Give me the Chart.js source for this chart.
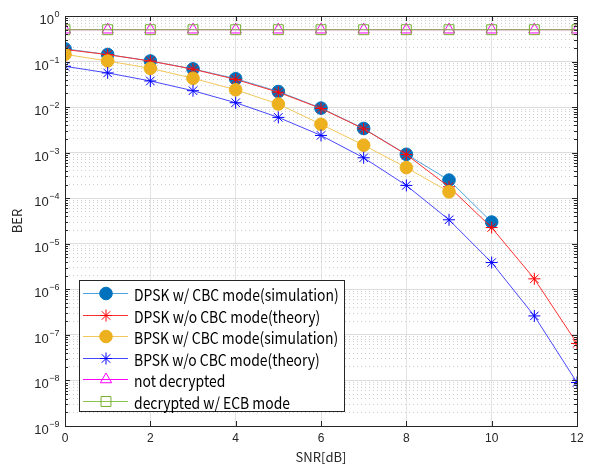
<!DOCTYPE html>
<html>
<head>
<meta charset="utf-8">
<script src="https://cdn.jsdelivr.net/npm/chart.js@4"></script>
<style>
  html, body { margin: 0; padding: 0; background: #fff; }
  #wrap { width: 590px; height: 465px; }
</style>
</head>
<body>
<div id="wrap"><canvas id="ber"></canvas></div>
<script>
// SNR points [dB]
const snr = [0, 1, 2, 3, 4, 5, 6, 7, 8, 9, 10, 11, 12];

// BER values
const dpskSim = [0.19, 0.143, 0.103, 0.069, 0.042, 0.022, 0.0095, 0.0034, 9.2e-4, 2.5e-4, 3.0e-5];
const dpskTheory = [0.184, 0.142, 0.1025, 0.068, 0.0406, 0.0212, 0.00934, 0.00333, 9.09e-4, 1.78e-4, 2.27e-5, 1.7e-6, 6.5e-8];
const bpskSim = [0.144, 0.103, 0.071, 0.043, 0.024, 0.0117, 0.0042, 0.00146, 4.7e-4, 1.38e-4];
const bpskTheory = [0.0786, 0.0563, 0.0375, 0.0229, 0.0125, 0.00595, 0.00239, 7.73e-4, 1.91e-4, 3.36e-5, 3.87e-6, 2.61e-7, 9.0e-9];
const notDecrypted = [0.5, 0.5, 0.5, 0.5, 0.5, 0.5, 0.5, 0.5, 0.5, 0.5, 0.5, 0.5, 0.5];
const ecbMode = [0.5, 0.5, 0.5, 0.5, 0.5, 0.5, 0.5, 0.5, 0.5, 0.5, 0.5, 0.5, 0.5];

const seriesLabels = [
    'DPSK w/ CBC mode(simulation)',
    'DPSK w/o CBC mode(theory)',
    'BPSK w/ CBC mode(simulation)',
    'BPSK w/o CBC mode(theory)',
    'not decrypted',
    'decrypted w/ ECB mode'
];

// y axis tick exponents, x axis ticks
const yExponents = [-9, -8, -7, -6, -5, -4, -3, -2, -1, 0];
const xTicks = [0, 2, 4, 6, 8, 10, 12];

function pts(arr) {
    return arr.map((v, i) => ({ x: snr[i], y: v }));
}

const AXIS = '#262626';
const FONT = "'Noto Sans CJK JP', 'Noto Sans', sans-serif";
const TICKFONT = "'Liberation Sans', Arial, sans-serif";

const datasets = [
    { data: pts(dpskSim), borderColor: '#4fa3dc', pointBackgroundColor: '#0072BD',
      pointBorderColor: '#0072BD', pointStyle: 'circle', pointRadius: 6.3 },
    { data: pts(dpskTheory), borderColor: '#ff3030', pointBackgroundColor: 'rgba(0,0,0,0)',
      pointBorderColor: '#ff0000', pointStyle: 'star', pointRadius: 6 },
    { data: pts(bpskSim), borderColor: '#f3c85a', pointBackgroundColor: '#EDB120',
      pointBorderColor: '#EDB120', pointStyle: 'circle', pointRadius: 6.3 },
    { data: pts(bpskTheory), borderColor: '#4848ff', pointBackgroundColor: 'rgba(0,0,0,0)',
      pointBorderColor: '#0000ff', pointStyle: 'star', pointRadius: 6 },
    { data: pts(notDecrypted), borderColor: '#ff00ff', pointBackgroundColor: 'rgba(0,0,0,0)',
      pointBorderColor: '#ff00ff', pointStyle: 'triangle', pointRadius: 6.5 },
    { data: pts(ecbMode), borderColor: '#8cc34f', pointBackgroundColor: 'rgba(0,0,0,0)',
      pointBorderColor: '#77AC30', pointStyle: 'rect', pointRadius: 7 }
];
datasets.forEach((d, i) => {
    d.label = seriesLabels[i];
    d.backgroundColor = d.pointBorderColor;
    d.borderWidth = 1;
    d.pointBorderWidth = 1;
    d.tension = 0;
    d.fill = false;
    d.order = datasets.length - i; // later series drawn on top
});

// box round the plot, inward tick marks, y labels with superscript exponents
const boxPlugin = {
    id: 'box',
    afterDatasetsDraw(chart) {
        const { ctx, chartArea: a, scales } = chart;
        ctx.save();
        ctx.strokeStyle = AXIS;
        ctx.lineWidth = 1;
        ctx.beginPath();
        xTicks.forEach(v => {
            const x = Math.round(scales.x.getPixelForValue(v)) + 0.5;
            ctx.moveTo(x, a.bottom); ctx.lineTo(x, a.bottom - 5);
            ctx.moveTo(x, a.top); ctx.lineTo(x, a.top + 5);
        });
        yExponents.forEach(e => {
            for (let m = 1; m <= 9; m++) {
                if (e === 0 && m > 1) break;
                const y = Math.round(scales.y.getPixelForValue(m * Math.pow(10, e))) + 0.5;
                const len = m === 1 ? 5 : 3;
                ctx.moveTo(a.left, y); ctx.lineTo(a.left + len, y);
                ctx.moveTo(a.right, y); ctx.lineTo(a.right - len, y);
            }
        });
        ctx.stroke();
        ctx.strokeRect(Math.round(a.left) + 0.5, Math.round(a.top) + 0.5,
            Math.round(a.right - a.left), Math.round(a.bottom - a.top));

        ctx.fillStyle = AXIS;
        ctx.textBaseline = 'alphabetic';
        ctx.textAlign = 'left';
        yExponents.forEach(e => {
            const y = scales.y.getPixelForValue(Math.pow(10, e));
            const ex = String(e).replace('-', '\u2212');
            ctx.font = '13px ' + TICKFONT;
            const wb = ctx.measureText('10').width;
            ctx.font = '9px ' + TICKFONT;
            const we = ctx.measureText(ex).width;
            const x0 = a.left - 6 - wb - we;
            ctx.font = '13px ' + TICKFONT;
            ctx.fillText('10', x0, y + 8);
            ctx.font = '9px ' + TICKFONT;
            ctx.fillText(ex, x0 + wb + 0.5, y + 1);
        });
        ctx.restore();
    }
};

// legend inside the lower left of the plot
const innerLegend = {
    id: 'innerLegend',
    afterDraw(chart) {
        const { ctx, chartArea: a } = chart;
        const bx = a.left + 14, by = a.bottom - 146, bw = 265, bh = 131;
        ctx.save();
        ctx.fillStyle = '#fff';
        ctx.fillRect(bx, by, bw, bh);
        ctx.strokeStyle = AXIS;
        ctx.lineWidth = 1;
        ctx.strokeRect(bx + 0.5, by + 0.5, bw, bh);
        ctx.font = '16px ' + FONT;
        ctx.textBaseline = 'middle';
        chart.data.datasets.forEach((d, i) => {
            const y = Math.round(by + 13 + i * 21.6) + 0.5;
            ctx.strokeStyle = d.borderColor;
            ctx.lineWidth = 1;
            ctx.beginPath();
            ctx.moveTo(bx + 4, y); ctx.lineTo(bx + 49, y);
            ctx.stroke();
            ctx.fillStyle = d.pointBackgroundColor;
            ctx.strokeStyle = d.pointBorderColor;
            Chart.helpers.drawPoint(ctx, {
                pointStyle: d.pointStyle, radius: d.pointRadius, borderWidth: 1, rotation: 0
            }, bx + 27, y);
            ctx.fillStyle = '#000';
            const w = ctx.measureText(d.label).width;
            ctx.fillText(d.label, bx + 55, y + 1, w * 0.87);
        });
        ctx.restore();
    }
};

new Chart(document.getElementById('ber'), {
    type: 'line',
    data: { datasets: datasets },
    plugins: [boxPlugin, innerLegend],
    options: {
        responsive: true,
        maintainAspectRatio: false,
        animation: false,
        layout: { padding: { top: 16, right: 13, left: 0, bottom: 0 } },
        plugins: {
            legend: { display: false },
            tooltip: { enabled: false }
        },
        scales: {
            x: {
                type: 'linear',
                min: 0,
                max: 12,
                afterBuildTicks: s => { s.ticks = xTicks.map(v => ({ value: v })); },
                afterFit: s => { s.height = 39; },
                grid: { color: '#e3e3e3', drawTicks: false },
                border: { display: false },
                ticks: { color: AXIS, padding: 5, font: { family: TICKFONT, size: 12 }, maxRotation: 0 },
                title: { display: true, text: 'SNR[dB]', color: AXIS, padding: { top: 0, bottom: 0 },
                    font: { family: FONT, size: 13 } }
            },
            y: {
                type: 'logarithmic',
                min: 1e-9,
                max: 1,
                afterBuildTicks: s => { s.ticks = yExponents.map(e => ({ value: Math.pow(10, e) })); },
                afterFit: s => { s.width = 65; },
                grid: { color: '#dcdcdc', drawTicks: false },
                border: { display: false },
                ticks: { display: false },
                title: { display: true, text: 'BER', color: AXIS, padding: { top: 9, bottom: 0 },
                    font: { family: FONT, size: 13 } }
            },
            yMinor: {
                type: 'logarithmic',
                position: 'left',
                min: 1e-9,
                max: 1,
                afterBuildTicks: s => {
                    const t = [];
                    yExponents.forEach(e => {
                        for (let m = 2; m <= 9; m++) {
                            if (e < 0) t.push({ value: m * Math.pow(10, e) });
                        }
                    });
                    s.ticks = t;
                },
                afterFit: s => { s.width = 0; },
                grid: { color: '#cfcfcf', drawTicks: false },
                border: { display: false, dash: [1, 3] },
                ticks: { display: false }
            }
        }
    }
});
</script>
</body>
</html>
